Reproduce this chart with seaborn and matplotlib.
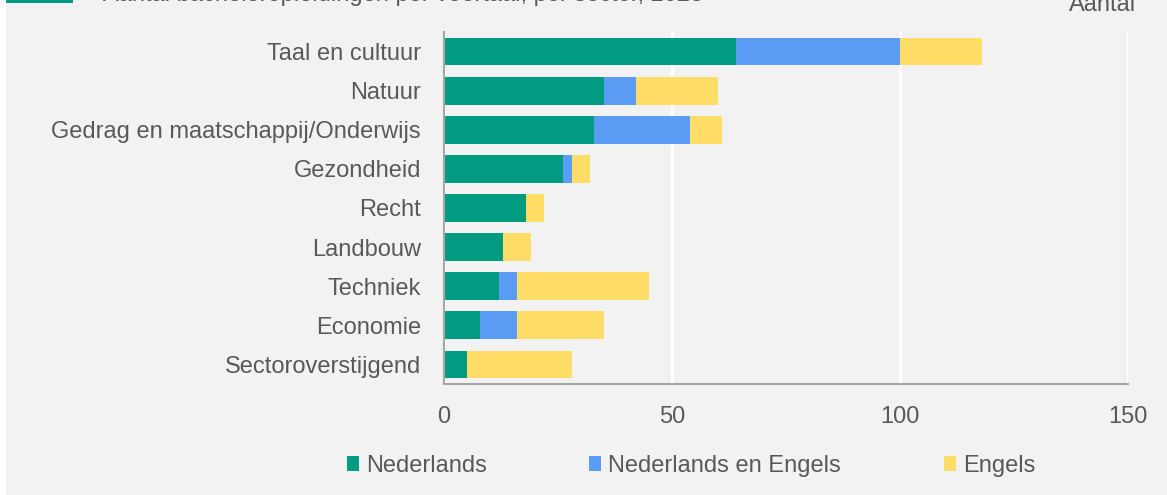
import matplotlib
matplotlib.use("Agg")
import matplotlib.pyplot as plt
import matplotlib.patches as mpatches
import numpy as np
import pandas as pd
import seaborn as sns

categories = ["Taal en cultuur", "Natuur", "Gedrag en maatschappij/Onderwijs",
              "Gezondheid", "Recht", "Landbouw", "Techniek", "Economie",
              "Sectoroverstijgend"]
nederlands = [64, 35, 33, 26, 18, 13, 12, 8, 5]
ned_en_engels = [36, 7, 21, 2, 0, 0, 4, 8, 0]
engels = [18, 18, 7, 4, 4, 6, 29, 19, 23]
series_names = ["Nederlands", "Nederlands en Engels", "Engels"]
colors = ["#009B81", "#5B9CF5", "#FFDD66"]
title = "Aantal bacheloropleidingen per voertaal, per sector, 2023"
unit_label = "Aantal"
xticks = [0, 50, 100, 150]

BG = "#F2F2F2"
TXT = "#595959"

sns.set_theme(style="white")
plt.rcParams["font.family"] = ["Liberation Sans", "DejaVu Sans"]

df = pd.DataFrame({"cat": categories,
                   "nl": nederlands,
                   "nle": ned_en_engels,
                   "en": engels})
df["c1"] = df["nl"]
df["c2"] = df["nl"] + df["nle"]
df["c3"] = df["c2"] + df["en"]

fig = plt.figure(figsize=(11.67, 4.95), dpi=100, facecolor=BG)
fig.patches.append(mpatches.Rectangle((0, 0), 6 / 1167, 1, transform=fig.transFigure,
                                      facecolor="white", edgecolor="none", zorder=0))
ax = fig.add_axes([444 / 1167, 1 - 384 / 495, 684 / 1167, 352 / 495])
ax.set_facecolor(BG)

for col, c in zip(["c3", "c2", "c1"], colors[::-1]):
    sns.barplot(data=df, y="cat", x=col, orient="h", color=c, width=0.71,
                saturation=1, ax=ax, order=categories, linewidth=0, zorder=3)

ax.set_xlim(0, 150)
ax.set_xticks(xticks)
ax.set_xticklabels([str(t) for t in xticks])
ax.set_ylim(len(categories) - 0.5, -0.5)
ax.set_xlabel("")
ax.set_ylabel("")
ax.grid(axis="x", color="white", linewidth=2.2, zorder=1)
ax.grid(axis="y", visible=False)
ax.set_axisbelow(True)
for s in ["top", "right"]:
    ax.spines[s].set_visible(False)
for s in ["left", "bottom"]:
    ax.spines[s].set_color("#A6A6A6")
    ax.spines[s].set_linewidth(1.5)
    ax.spines[s].set_zorder(5)
ax.tick_params(axis="both", length=0, labelsize=17, labelcolor=TXT)
ax.tick_params(axis="x", pad=16)
ax.tick_params(axis="y", pad=16.5)

handles = [mpatches.Patch(facecolor=c, edgecolor="none", label=n)
           for c, n in zip(colors, series_names)]
leg = fig.legend(handles=handles, loc="center", bbox_to_anchor=(691 / 1167, 1 - 466 / 495),
                 ncol=3, frameon=False, fontsize=17, handlelength=0.5, handleheight=0.6,
                 handletextpad=0.3, columnspacing=4.35)
for t in leg.get_texts():
    t.set_color(TXT)

fig.text(103 / 1167, 1 - 1.5 / 495, title, fontsize=17, color=TXT, va="baseline", ha="left")
fig.patches.append(mpatches.Rectangle((6 / 1167, 1 - 2.5 / 495), 67 / 1167, 2.5 / 495,
                                      transform=fig.transFigure, facecolor=colors[0],
                                      edgecolor="none"))
fig.text(1136 / 1167, 1 - 11 / 495, unit_label, fontsize=17, color=TXT, va="baseline", ha="right")

fig.savefig("out.png", dpi=100, facecolor=BG)
